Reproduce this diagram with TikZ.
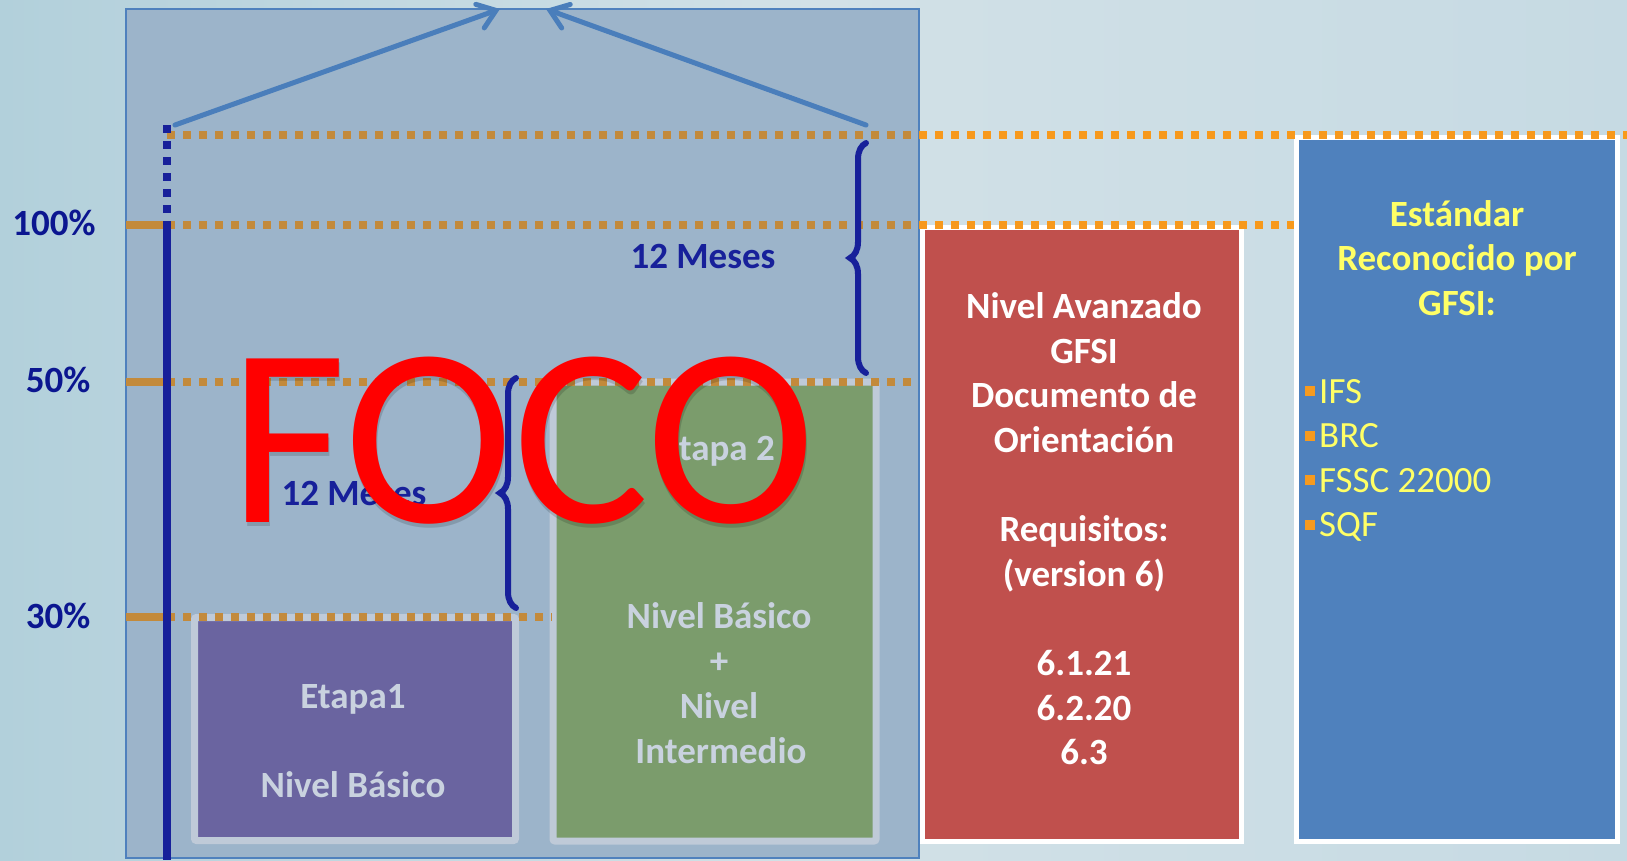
\documentclass[tikz,border=0pt]{standalone}
\usepackage{fontspec}
\setmainfont{Carlito}
\usetikzlibrary{arrows.meta,decorations.pathreplacing}
\definecolor{bgA}{HTML}{B2D0DB}
\definecolor{bgM}{HTML}{D2E1E7}
\definecolor{bgB}{HTML}{C6DAE3}
\definecolor{panel}{HTML}{9CB4CA}
\definecolor{panelline}{HTML}{4F81BD}
\definecolor{navy}{HTML}{17209A}
\definecolor{lbl}{HTML}{0B1690}
\definecolor{ornIn}{HTML}{C38A3B}
\definecolor{ornOut}{HTML}{F7991C}
\definecolor{arrowc}{HTML}{4A7EBB}
\definecolor{purp}{HTML}{6A64A0}
\definecolor{grn}{HTML}{7B9C6C}
\definecolor{redb}{HTML}{C0504D}
\definecolor{blueb}{HTML}{4F81BD}
\definecolor{pale}{HTML}{BFCAD8}
\definecolor{paletext}{HTML}{C9D2DF}
\definecolor{ylw}{HTML}{FFFF66}
\definecolor{bulletc}{HTML}{F79A1E}
\tikzset{
  big/.style={font=\bfseries\fontsize{37}{44.6}\selectfont, inner sep=0pt},
  reg/.style={font=\fontsize{37}{44.6}\selectfont, inner sep=0pt},
  pct/.style={big, text=lbl, anchor=base},
  meses/.style={big, text=navy, anchor=base},
  paletxt/.style={big, text=paletext, anchor=base},
  redtxt/.style={big, text=white, anchor=base},
  ylwtitle/.style={big, text=ylw, anchor=base},
  ylwitem/.style={reg, text=ylw, anchor=base west},
  orndots/.style={line width=7.5pt, dash pattern=on 8pt off 8pt},
  levelbox/.style={line width=7pt, draw=pale, rounded corners=2pt},
  whitebox/.style={line width=5pt, draw=white},
  bracestyle/.style={navy, line width=6pt, line cap=round, decorate,
     decoration={brace, amplitude=16pt}},
  upline/.style={arrowc, line width=5pt, line cap=round,
     -{Straight Barb[length=17pt,width=25pt,line cap=round]}},
}
\begin{document}
\begin{tikzpicture}[x=1pt,y=-1pt]
\useasboundingbox (0,0) rectangle (1627,860);
% background
\shade[left color=bgA, right color=bgB, middle color=bgM] (0,0) rectangle (1627,860);
% big translucent panel
\fill[panel] (126,9) rectangle (919,858);
% level boxes
\filldraw[levelbox, fill=purp] (194.5,617.5) rectangle (515.5,840.5);
\filldraw[levelbox, fill=grn] (553,382) rectangle (876,841);
\filldraw[whitebox, fill=redb] (922.5,227.5) rectangle (1241.5,841);
\filldraw[whitebox, fill=blueb] (1296.5,137.5) rectangle (1617.5,841);
\draw[panelline, line width=1.5pt] (126,9) rectangle (919,858);
% orange level lines
\coordinate (t0) at (167,135);   \coordinate (t1) at (1627,135);
\coordinate (h0) at (167,225);   \coordinate (h1) at (1294,225);
\coordinate (f0) at (167,382);   \coordinate (f1) at (914,382);
\coordinate (d0) at (167,617);   \coordinate (d1) at (552,617);
\draw[ornOut, orndots] (t0) -- (t1);
\draw[ornOut, orndots] (h0) -- (h1);
\begin{scope}
  \clip (126,9) rectangle (919,858);
  \draw[ornIn, orndots] (t0) -- (t1);
  \draw[ornIn, orndots] (h0) -- (h1);
\end{scope}
\draw[ornIn, orndots] (f0) -- (f1);
\draw[ornIn, orndots] (d0) -- (d1);
\draw[ornIn, line width=7.5pt] (126,225) -- (h0);
\draw[ornIn, line width=7.5pt] (126,382) -- (f0);
\draw[ornIn, line width=7.5pt] (126,617) -- (d0);
% navy axis
\coordinate (ax0) at (167,125);
\coordinate (ax1) at (167,225);
\coordinate (ax2) at (167,860);
\draw[navy, line width=8pt, dash pattern=on 8pt off 8pt] (ax0) -- (ax1);
\draw[navy, line width=8pt] (ax1) -- (ax2);
% roof arrows
\coordinate (al) at (175,125);
\coordinate (ar) at (866,125);
\coordinate (tl) at (500,9);
\coordinate (tr) at (546,9);
\draw[upline] (al) -- (tl);
\draw[upline] (ar) -- (tr);
% braces
\coordinate (b1a) at (866,373);
\coordinate (b1b) at (866,143);
\coordinate (b2a) at (516,608);
\coordinate (b2b) at (516,378);
\draw[bracestyle] (b1a) -- (b1b);
\draw[bracestyle] (b2a) -- (b2b);
\node[meses] (m1) at (703,268) {12 Meses};
\node[meses] (m2) at (354,505) {12 Meses};
% percent labels
\node[pct] (p100) at (54,235) {100\%};
\node[pct] (p50) at (58,392) {50\%};
\node[pct] (p30) at (58,628) {30\%};
% Etapa 1
\node[paletxt] (e1a) at (353,708) {Etapa1};
\node[paletxt] (e1b) at (353,797) {Nivel Básico};
% Etapa 2
\node[paletxt] (e2a) at (718,460) {Etapa 2};
\node[paletxt] (e2b) at (719,628) {Nivel Básico};
\node[paletxt] (e2c) at (719,673) {+};
\node[paletxt] (e2d) at (719,718) {Nivel};
\node[paletxt] (e2e) at (721,763) {Intermedio};
% red box
\node[redtxt] (r1) at (1084,318.7) {Nivel Avanzado};
\node[redtxt] (r2) at (1084,363.3) {GFSI};
\node[redtxt] (r3) at (1084,407.9) {Documento de};
\node[redtxt] (r4) at (1084,452.5) {Orientación};
\node[redtxt] (r5) at (1084,541.7) {Requisitos:};
\node[redtxt] (r6) at (1084,586.3) {(version 6)};
\node[redtxt] (r7) at (1084,675.5) {6.1.21};
\node[redtxt] (r8) at (1084,720.1) {6.2.20};
\node[redtxt] (r9) at (1084,764.7) {6.3};
% blue box
\node[ylwtitle] (s1) at (1457,226) {Estándar};
\node[ylwtitle] (s2) at (1457,270.6) {Reconocido por};
\node[ylwtitle] (s3) at (1457,315.2) {GFSI:};
\node[ylwitem] (i1) at (1305,403) {\textcolor{bulletc}{\rule[7pt]{10pt}{10pt}}\hspace{4pt}IFS};
\node[ylwitem] (i2) at (1305,447.6) {\textcolor{bulletc}{\rule[7pt]{10pt}{10pt}}\hspace{4pt}BRC};
\node[ylwitem] (i3) at (1305,492.2) {\textcolor{bulletc}{\rule[7pt]{10pt}{10pt}}\hspace{4pt}FSSC 22000};
\node[ylwitem] (i4) at (1305,536.8) {\textcolor{bulletc}{\rule[7pt]{10pt}{10pt}}\hspace{4pt}SQF};
% FOCO
\node[anchor=base west, inner sep=0pt, text=black, opacity=0.15, font=\fontsize{255}{255}\selectfont] (focoshadow) at (230,526) {FOCO};
\node[anchor=base west, inner sep=0pt, text=red, font=\fontsize{255}{255}\selectfont] (foco) at (229,522) {FOCO};
\end{tikzpicture}
\end{document}
